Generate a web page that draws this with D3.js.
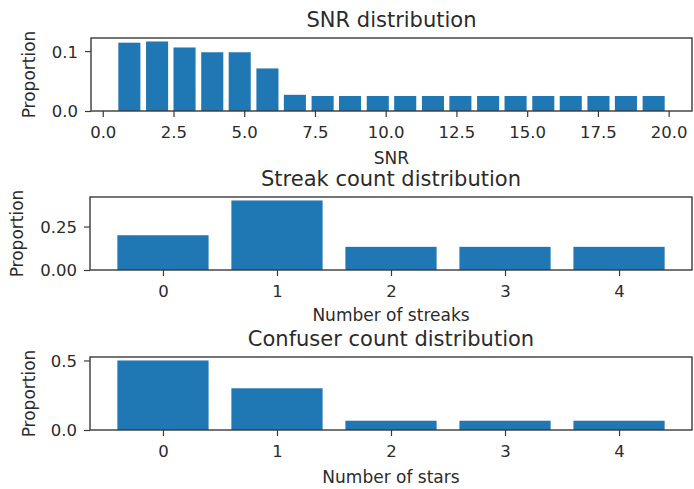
<!DOCTYPE html>
<html>
<head>
<meta charset="utf-8">
<script src="https://cdn.jsdelivr.net/npm/d3@7"></script>
<style>
  body { margin: 0; background: #fff; }
  text { font-family: "DejaVu Sans", sans-serif; fill: #2b2b2b; }
</style>
</head>
<body>
<svg id="fig" width="694" height="489"></svg>
<script>
// SNR histogram: bin centres and proportions
const snrCenters = [0.94, 1.92, 2.89, 3.87, 4.84, 5.82, 6.79, 7.77, 8.74, 9.72,
                    10.69, 11.67, 12.64, 13.62, 14.59, 15.57, 16.54, 17.52, 18.49, 19.47];
const snrValues  = [0.114, 0.116, 0.106, 0.098, 0.098, 0.071, 0.027, 0.025, 0.025, 0.025,
                    0.025, 0.025, 0.025, 0.025, 0.025, 0.025, 0.025, 0.025, 0.025, 0.025];
const snrXTicks = [0, 2.5, 5, 7.5, 10, 12.5, 15, 17.5, 20];
const snrYTicks = [0, 0.1];

// Streak count distribution
const streakCounts = [0, 1, 2, 3, 4];
const streakValues = [0.2, 0.4, 0.1333, 0.1333, 0.1333];
const streakYTicks = [0, 0.25];

// Confuser (star) count distribution
const starCounts = [0, 1, 2, 3, 4];
const starValues = [0.5, 0.3, 0.0667, 0.0667, 0.0667];
const starYTicks = [0, 0.5];

const svg = d3.select("#fig");
const BAR = "#1f77b4";
const INK = "#3a3a3a";
const TICK_FONT = 16.5, LABEL_FONT = 17, TITLE_FONT = 21;

function panel(cfg) {
  const { xs, ys, barW, top, bottom, left, right } = cfg;
  // matplotlib-style 5% margins around the bar extents
  const lo = d3.min(xs) - barW / 2, hi = d3.max(xs) + barW / 2;
  const pad = (hi - lo) * 0.05;
  const x = d3.scaleLinear().domain([lo - pad, hi + pad]).range([left, right]);
  const y = d3.scaleLinear().domain([0, d3.max(ys) * 1.05]).range([bottom, top]);

  const g = svg.append("g");

  g.selectAll("rect.bar").data(xs).join("rect")
    .attr("class", "bar")
    .attr("x", (d) => x(d - barW / 2))
    .attr("width", (d) => x(d + barW / 2) - x(d - barW / 2))
    .attr("y", (d, i) => y(ys[i]))
    .attr("height", (d, i) => y(0) - y(ys[i]))
    .attr("fill", BAR);

  const xAxis = d3.axisBottom(x).tickValues(cfg.xTicks).tickFormat(cfg.xFmt)
    .tickSize(6).tickSizeOuter(0);
  const gx = g.append("g").attr("transform", `translate(0,${bottom})`).call(xAxis);
  const yAxis = d3.axisLeft(y).tickValues(cfg.yTicks).tickFormat(cfg.yFmt)
    .tickSize(6).tickSizeOuter(0).tickPadding(7);
  const gy = g.append("g").attr("transform", `translate(${left},0)`).call(yAxis);
  [gx, gy].forEach((a) => {
    a.select(".domain").remove();
    a.selectAll(".tick line").attr("stroke", INK).attr("stroke-width", 1.2);
    a.selectAll(".tick text").attr("font-size", TICK_FONT).attr("fill", "#2b2b2b")
      .attr("font-family", "DejaVu Sans, sans-serif");
  });
  gx.selectAll(".tick text").attr("dy", null).attr("y", 27);
  gy.selectAll(".tick text").attr("dy", "0.36em");

  g.append("rect")
    .attr("x", left).attr("y", top)
    .attr("width", right - left).attr("height", bottom - top)
    .attr("fill", "none").attr("stroke", INK).attr("stroke-width", 1.4);

  g.append("text")
    .attr("x", (left + right) / 2).attr("y", top - 11)
    .attr("text-anchor", "middle").attr("font-size", TITLE_FONT)
    .text(cfg.title);

  g.append("text")
    .attr("x", (left + right) / 2).attr("y", bottom + cfg.xLabelOffset)
    .attr("text-anchor", "middle").attr("font-size", LABEL_FONT)
    .text(cfg.xLabel);

  g.append("text")
    .attr("transform", `translate(${cfg.yLabelX},${(top + bottom) / 2}) rotate(-90)`)
    .attr("text-anchor", "middle").attr("font-size", LABEL_FONT)
    .text("Proportion");
}

panel({
  xs: snrCenters, ys: snrValues, barW: 0.78,
  top: 38, bottom: 111, left: 91, right: 692,
  xTicks: snrXTicks, xFmt: d3.format(".1f"),
  yTicks: snrYTicks, yFmt: d3.format(".1f"),
  title: "SNR distribution", xLabel: "SNR", xLabelOffset: 53, yLabelX: 35
});

panel({
  xs: streakCounts, ys: streakValues, barW: 0.8,
  top: 197, bottom: 270, left: 90, right: 692,
  xTicks: streakCounts, xFmt: d3.format("d"),
  yTicks: streakYTicks, yFmt: d3.format(".2f"),
  title: "Streak count distribution", xLabel: "Number of streaks", xLabelOffset: 51, yLabelX: 23
});

panel({
  xs: starCounts, ys: starValues, barW: 0.8,
  top: 357, bottom: 430, left: 90, right: 692,
  xTicks: starCounts, xFmt: d3.format("d"),
  yTicks: starYTicks, yFmt: d3.format(".1f"),
  title: "Confuser count distribution", xLabel: "Number of stars", xLabelOffset: 53, yLabelX: 35
});
</script>
</body>
</html>
